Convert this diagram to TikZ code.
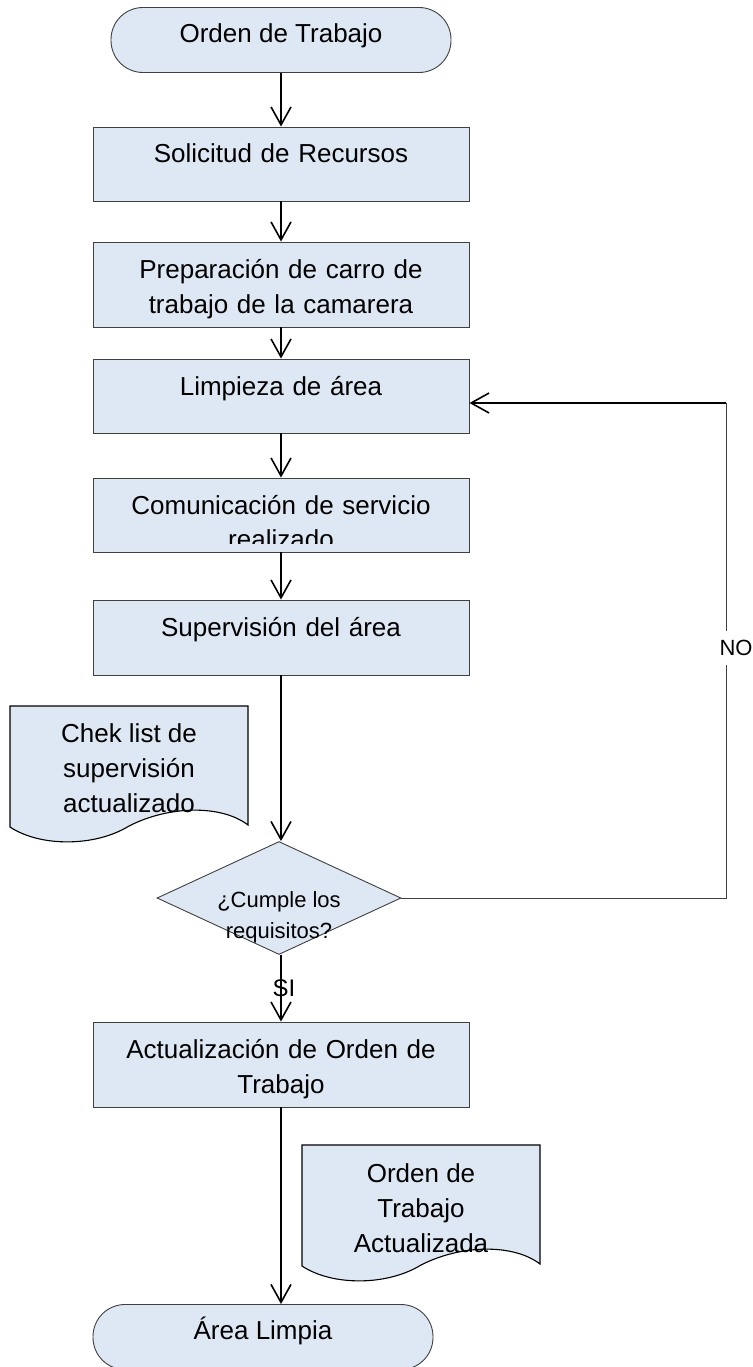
\documentclass[tikz,border=0pt]{standalone}
\usepackage{fontspec}
\setmainfont{Liberation Sans}
\usetikzlibrary{shapes.geometric,arrows.meta}

\definecolor{boxblue}{HTML}{DEE8F4}
\definecolor{linegray}{HTML}{404040}

\tikzset{
  base/.style={font=\fontsize{26pt}{35pt}\selectfont},
  small/.style={font=\fontsize{22pt}{31pt}\selectfont},
  term/.style={draw=linegray, line width=0.9pt, fill=boxblue, rounded corners=32pt, minimum width=340pt, minimum height=65pt, text height=19pt, text depth=14pt, base},
  proc/.style={draw=linegray, line width=0.9pt, fill=boxblue, inner sep=0pt, text width=376pt, align=center, text height=36pt, text depth=#1, base},
  decision/.style={draw=linegray, line width=0.9pt, fill=boxblue, shape=diamond, inner sep=0pt, minimum width=244pt, minimum height=113pt},
  link/.style={line width=1.6pt, ->},
  fb/.style={line width=1pt, draw=linegray},
  docpath/.pic={
    \draw[fill=boxblue, line width=1.1pt] (0,0) -- (238,0) -- (238,119)
      .. controls (212,99) and (160,99) .. (119,120)
      .. controls (85,141) and (30,141) .. (0,121) -- cycle;
  },
  >={Straight Barb[length=18pt,width=20pt]},
}

\begin{document}
\begin{tikzpicture}[x=1pt, y=-1pt]

    \useasboundingbox (0,0) rectangle (752,1367);

    \node[term] (start) at (281,40) {Orden de Trabajo};
    \node[proc=38pt] (sol) at (281,164) {Solicitud de Recursos};
    \node[proc=49pt] (prep) at (281,284.5) {Preparación de carro de\\trabajo de la camarera};
    \node[proc=38pt] (lim) at (281,396) {Limpieza de área};
    \node[proc=38pt] (com) at (281,515) {Comunicación de servicio};
    \begin{scope}
        \clip (com.north west) rectangle ([yshift=9pt]com.south east);
        \node[base, anchor=base] (realiz) at (281,548) {realizado};
    \end{scope}
    \node[proc=39pt] (sup) at (281,637.5) {Supervisión del área};

    \pic at (10,706) {docpath};
    \node[base, align=center] (chk) at (129,768) {Chek list de\\supervisión\\actualizado};

    \node[decision] (dec) at (279,898) {};
    \node[small, align=center] (dectxt) at (279,917) {¿Cumple los\\requisitos?};

    \node[proc=49pt] (act) at (281,1064.5) {Actualización de Orden de\\Trabajo};

    \pic at (302,1145) {docpath};
    \node[base, align=center] (otdoc) at (421,1208) {Orden de\\Trabajo\\Actualizada};

    \node[term] (fin) at (263,1337) {Área Limpia};

    \coordinate (back) at (726,403);

    \draw[link] (start) -- (sol);
    \draw[link] (sol) -- (prep);
    \draw[link] (prep) -- (lim);
    \draw[link] (lim) -- (com);
    \draw[link] (com) -- (sup);
    \draw[link] (sup) -- (sup |- dec.north);
    \draw[link] (dec.south -| act) -- node[font=\fontsize{24pt}{28pt}\selectfont, xshift=3pt] (si) {SI} (act);
    \draw[link] (act) -- (act |- fin.north);

    \draw[fb] (dec) -- (dec -| back) -- node[small, fill=white, inner xsep=1pt, inner ysep=9pt, xshift=10pt, pos=0.505] (no) {NO} (back);
    \draw[link] (back) -- (back -| lim.east);

\end{tikzpicture}
\end{document}
